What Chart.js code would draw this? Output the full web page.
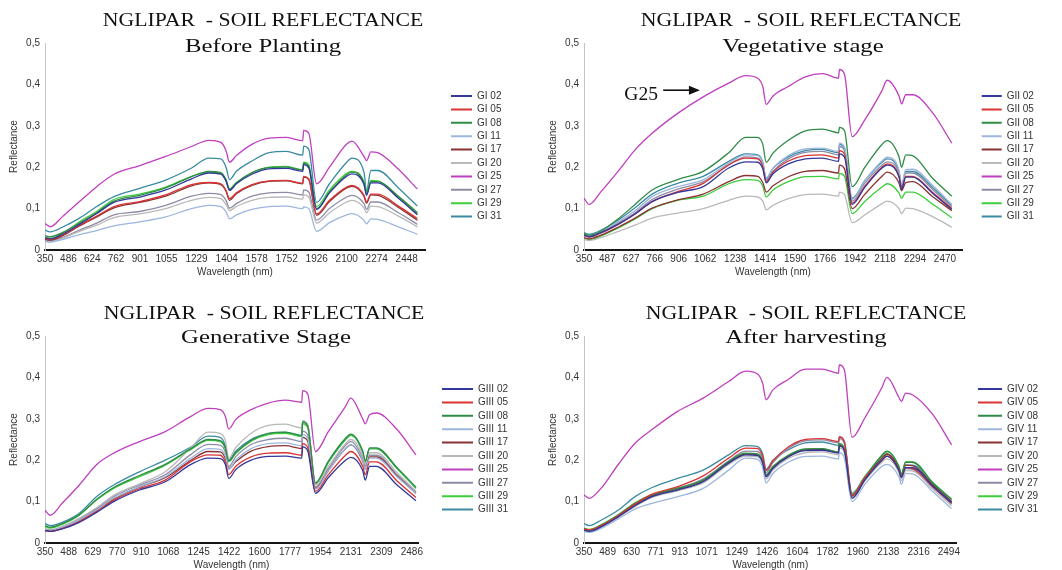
<!DOCTYPE html>
<html><head><meta charset="utf-8">
<script src="https://cdn.jsdelivr.net/npm/chart.js@4.4.1/dist/chart.umd.min.js"></script>
<style>
html,body{margin:0;padding:0;background:#fff;overflow:hidden;width:1062px;height:570px}
.panel{position:absolute}
.panel canvas{display:block}
.ttl{position:absolute;width:500px;text-align:center;font-family:"Liberation Serif","Times New Roman",serif;color:#111;white-space:nowrap;transform-origin:50% 50%;z-index:2}
.t1{font-size:18.6px;line-height:18.6px;transform:scaleX(1.17)}
.t2{font-size:19.2px;line-height:19.2px;transform:scaleX(1.29)}
</style></head><body>

<div class="panel" style="left:0;top:0"><canvas id="c1" width="531" height="278"></canvas></div>
<div class="panel" style="left:539px;top:0"><canvas id="c2" width="523" height="278"></canvas></div>
<div class="panel" style="left:0;top:293px"><canvas id="c3" width="531" height="278"></canvas></div>
<div class="panel" style="left:539px;top:293px"><canvas id="c4" width="523" height="278"></canvas></div>

<div class="ttl t1" style="left:13px;top:11px">NGLIPAR &nbsp;- SOIL REFLECTANCE</div>
<div class="ttl t2" style="left:13px;top:36px">Before Planting</div>
<div class="ttl t1" style="left:551px;top:11px">NGLIPAR &nbsp;- SOIL REFLECTANCE</div>
<div class="ttl t2" style="left:553px;top:36px">Vegetative stage</div>
<div class="ttl t1" style="left:14px;top:304px">NGLIPAR &nbsp;- SOIL REFLECTANCE</div>
<div class="ttl t2" style="left:16px;top:327px">Generative Stage</div>
<div class="ttl t1" style="left:556px;top:304px">NGLIPAR &nbsp;- SOIL REFLECTANCE</div>
<div class="ttl t2" style="left:556px;top:327px">After harvesting</div>

<script>
// ---------- DATA ----------
const WAVELENGTH_NM = [350, 380, 450, 550, 650, 750, 900, 1050, 1200, 1300, 1370, 1400, 1420, 1460, 1550, 1650, 1750, 1845, 1850, 1880, 1925, 2000, 2100, 2130, 2200, 2215, 2240, 2280, 2400, 2510];

const TICKS_BEFORE     = [350, 486, 624, 762, 901, 1055, 1229, 1404, 1578, 1752, 1926, 2100, 2274, 2448];
const TICKS_VEGETATIVE = [350, 487, 627, 766, 906, 1062, 1238, 1414, 1590, 1766, 1942, 2118, 2294, 2470];
const TICKS_GENERATIVE = [350, 488, 629, 770, 910, 1068, 1245, 1422, 1600, 1777, 1954, 2131, 2309, 2486];
const TICKS_AFTER      = [350, 489, 630, 771, 913, 1071, 1249, 1426, 1604, 1782, 1960, 2138, 2316, 2494];

const NAMES_I   = ['GI 02','GI 05','GI 08','GI 11','GI 17','GI 20','GI 25','GI 27','GI 29','GI 31'];
const NAMES_II  = ['GII 02','GII 05','GII 08','GII 11','GII 17','GII 20','GII 25','GII 27','GII 29','GII 31'];
const NAMES_III = ['GIII 02','GIII 05','GIII 08','GIII 11','GIII 17','GIII 20','GIII 25','GIII 27','GIII 29','GIII 31'];
const NAMES_IV  = ['GIV 02','GIV 05','GIV 08','GIV 11','GIV 17','GIV 20','GIV 25','GIV 27','GIV 29','GIV 31'];

// Before planting
const GI_02 = [0.03,0.027,0.038,0.062,0.088,0.115,0.128,0.145,0.172,0.186,0.183,0.166,0.144,0.16,0.183,0.196,0.197,0.19,0.206,0.198,0.098,0.138,0.178,0.184,0.158,0.132,0.162,0.162,0.125,0.085];
const GI_05 = [0.028,0.025,0.036,0.06,0.082,0.105,0.117,0.133,0.158,0.163,0.16,0.144,0.124,0.138,0.158,0.167,0.168,0.161,0.178,0.172,0.087,0.12,0.152,0.156,0.132,0.116,0.135,0.135,0.106,0.076];
const GI_08 = [0.035,0.032,0.042,0.065,0.09,0.118,0.132,0.15,0.177,0.19,0.187,0.17,0.146,0.162,0.187,0.199,0.2,0.193,0.21,0.202,0.1,0.14,0.182,0.188,0.162,0.135,0.165,0.165,0.13,0.09];
const GI_11 = [0.02,0.019,0.025,0.037,0.047,0.058,0.068,0.08,0.1,0.108,0.105,0.092,0.075,0.085,0.098,0.105,0.106,0.1,0.104,0.1,0.045,0.066,0.085,0.088,0.072,0.063,0.075,0.074,0.056,0.038];
const GI_17 = [0.026,0.024,0.034,0.058,0.08,0.102,0.115,0.13,0.155,0.162,0.158,0.142,0.12,0.136,0.156,0.166,0.167,0.16,0.176,0.17,0.084,0.117,0.15,0.154,0.13,0.113,0.133,0.132,0.103,0.072];
const GI_20 = [0.022,0.02,0.028,0.045,0.06,0.078,0.087,0.1,0.12,0.127,0.124,0.11,0.095,0.105,0.12,0.127,0.128,0.123,0.133,0.128,0.065,0.09,0.116,0.12,0.102,0.09,0.106,0.105,0.082,0.056];
const GI_25 = [0.064,0.056,0.08,0.117,0.153,0.183,0.204,0.226,0.25,0.265,0.26,0.24,0.212,0.228,0.255,0.27,0.272,0.264,0.289,0.282,0.16,0.2,0.256,0.263,0.226,0.216,0.237,0.235,0.195,0.147];
const GI_27 = [0.024,0.022,0.03,0.048,0.065,0.085,0.093,0.108,0.13,0.137,0.134,0.12,0.101,0.112,0.13,0.138,0.139,0.133,0.145,0.14,0.072,0.1,0.128,0.132,0.112,0.098,0.116,0.116,0.09,0.062];
const GI_29 = [0.03,0.028,0.04,0.068,0.093,0.122,0.135,0.152,0.178,0.188,0.185,0.168,0.148,0.163,0.186,0.2,0.202,0.194,0.212,0.205,0.105,0.145,0.185,0.19,0.165,0.14,0.168,0.167,0.128,0.087];
const GI_31 = [0.048,0.044,0.055,0.077,0.105,0.129,0.149,0.169,0.198,0.222,0.22,0.2,0.17,0.19,0.215,0.235,0.238,0.229,0.251,0.243,0.115,0.16,0.212,0.222,0.188,0.142,0.192,0.192,0.15,0.106];

// Vegetative stage
const GII_02 = [0.036,0.032,0.042,0.062,0.087,0.117,0.139,0.153,0.198,0.213,0.212,0.196,0.162,0.184,0.208,0.22,0.222,0.214,0.232,0.224,0.11,0.152,0.198,0.205,0.176,0.146,0.176,0.176,0.136,0.098];
const GII_05 = [0.035,0.031,0.041,0.062,0.087,0.117,0.141,0.161,0.206,0.222,0.22,0.202,0.165,0.188,0.215,0.228,0.23,0.222,0.24,0.232,0.113,0.155,0.2,0.208,0.178,0.148,0.178,0.178,0.138,0.1];
const GII_08 = [0.04,0.036,0.046,0.075,0.11,0.145,0.17,0.19,0.235,0.272,0.272,0.255,0.212,0.234,0.265,0.288,0.292,0.283,0.296,0.288,0.153,0.2,0.255,0.264,0.225,0.2,0.23,0.228,0.172,0.13];
const GII_11 = [0.04,0.036,0.046,0.068,0.095,0.129,0.153,0.17,0.21,0.23,0.228,0.21,0.175,0.198,0.228,0.244,0.246,0.238,0.258,0.248,0.122,0.168,0.215,0.224,0.193,0.158,0.194,0.195,0.155,0.11];
const GII_17 = [0.03,0.027,0.036,0.055,0.077,0.101,0.121,0.135,0.165,0.18,0.178,0.163,0.14,0.155,0.177,0.19,0.192,0.186,0.205,0.196,0.1,0.135,0.178,0.188,0.162,0.143,0.163,0.165,0.128,0.095];
const GII_20 = [0.025,0.023,0.03,0.045,0.06,0.077,0.089,0.1,0.12,0.13,0.128,0.118,0.097,0.108,0.124,0.134,0.135,0.13,0.14,0.134,0.066,0.085,0.112,0.118,0.1,0.088,0.101,0.1,0.08,0.055];
const GII_25 = [0.125,0.11,0.141,0.19,0.242,0.282,0.33,0.37,0.403,0.421,0.415,0.395,0.352,0.372,0.395,0.418,0.426,0.415,0.436,0.424,0.274,0.315,0.385,0.41,0.372,0.353,0.375,0.375,0.33,0.258];
const GII_27 = [0.038,0.034,0.044,0.065,0.09,0.122,0.147,0.165,0.205,0.225,0.222,0.205,0.168,0.19,0.22,0.236,0.238,0.23,0.25,0.24,0.118,0.162,0.205,0.213,0.185,0.152,0.186,0.186,0.145,0.104];
const GII_29 = [0.028,0.025,0.034,0.053,0.075,0.1,0.12,0.13,0.16,0.17,0.168,0.154,0.128,0.145,0.165,0.177,0.178,0.172,0.185,0.178,0.088,0.118,0.152,0.16,0.138,0.125,0.14,0.14,0.11,0.078];
const GII_31 = [0.042,0.038,0.048,0.072,0.102,0.135,0.161,0.178,0.214,0.232,0.23,0.212,0.172,0.197,0.225,0.24,0.243,0.235,0.255,0.245,0.125,0.168,0.212,0.22,0.19,0.155,0.19,0.19,0.15,0.108];

// Generative stage
const GIII_02 = [0.03,0.028,0.034,0.05,0.074,0.1,0.128,0.148,0.19,0.205,0.204,0.19,0.156,0.177,0.2,0.209,0.21,0.205,0.232,0.222,0.12,0.158,0.2,0.207,0.175,0.152,0.185,0.185,0.14,0.102];
const GIII_05 = [0.03,0.028,0.035,0.052,0.076,0.103,0.131,0.152,0.197,0.213,0.212,0.196,0.165,0.185,0.208,0.217,0.218,0.212,0.24,0.23,0.125,0.165,0.212,0.221,0.185,0.165,0.196,0.196,0.15,0.11];
const GIII_08 = [0.042,0.038,0.047,0.068,0.105,0.134,0.163,0.19,0.228,0.25,0.247,0.23,0.198,0.218,0.248,0.265,0.268,0.26,0.292,0.282,0.145,0.198,0.253,0.263,0.222,0.198,0.23,0.23,0.182,0.135];
const GIII_11 = [0.033,0.03,0.038,0.056,0.08,0.108,0.136,0.16,0.205,0.228,0.226,0.21,0.178,0.2,0.228,0.24,0.242,0.235,0.262,0.252,0.13,0.175,0.228,0.237,0.2,0.178,0.205,0.205,0.16,0.12];
const GIII_17 = [0.032,0.03,0.037,0.055,0.08,0.106,0.135,0.158,0.2,0.221,0.22,0.205,0.18,0.196,0.222,0.233,0.235,0.228,0.255,0.245,0.132,0.175,0.228,0.237,0.198,0.178,0.208,0.208,0.162,0.12];
const GIII_20 = [0.035,0.032,0.04,0.06,0.085,0.115,0.143,0.172,0.23,0.268,0.265,0.248,0.205,0.23,0.265,0.284,0.287,0.278,0.295,0.285,0.14,0.185,0.24,0.25,0.212,0.19,0.218,0.218,0.17,0.125];
const GIII_25 = [0.079,0.067,0.096,0.14,0.189,0.217,0.245,0.269,0.306,0.325,0.322,0.306,0.275,0.298,0.322,0.338,0.345,0.34,0.368,0.36,0.221,0.269,0.33,0.35,0.3,0.288,0.31,0.314,0.274,0.213];
const GIII_27 = [0.034,0.031,0.039,0.058,0.083,0.112,0.14,0.165,0.214,0.238,0.236,0.22,0.185,0.208,0.238,0.25,0.253,0.245,0.27,0.26,0.135,0.18,0.236,0.245,0.205,0.185,0.212,0.212,0.165,0.123];
const GIII_29 = [0.04,0.036,0.045,0.068,0.104,0.132,0.16,0.188,0.226,0.248,0.245,0.228,0.196,0.216,0.246,0.262,0.265,0.257,0.288,0.278,0.142,0.195,0.25,0.26,0.22,0.195,0.228,0.228,0.18,0.133];
const GIII_31 = [0.047,0.042,0.05,0.072,0.112,0.14,0.172,0.2,0.232,0.258,0.255,0.235,0.2,0.222,0.25,0.264,0.267,0.258,0.295,0.285,0.145,0.195,0.25,0.26,0.22,0.196,0.228,0.228,0.18,0.132];

// After harvesting
const GIV_02 = [0.031,0.028,0.039,0.063,0.09,0.112,0.128,0.148,0.193,0.213,0.211,0.194,0.16,0.18,0.208,0.223,0.224,0.217,0.234,0.223,0.108,0.152,0.2,0.21,0.176,0.158,0.182,0.182,0.137,0.097];
const GIV_05 = [0.035,0.032,0.042,0.066,0.094,0.118,0.136,0.162,0.205,0.229,0.228,0.21,0.175,0.198,0.232,0.25,0.252,0.245,0.256,0.244,0.115,0.158,0.2,0.21,0.177,0.16,0.182,0.18,0.136,0.096];
const GIV_08 = [0.034,0.031,0.043,0.067,0.096,0.116,0.132,0.152,0.197,0.217,0.215,0.198,0.165,0.185,0.212,0.227,0.228,0.22,0.24,0.228,0.115,0.158,0.212,0.222,0.185,0.165,0.195,0.195,0.145,0.105];
const GIV_11 = [0.028,0.026,0.035,0.058,0.082,0.096,0.112,0.132,0.176,0.205,0.202,0.182,0.145,0.168,0.195,0.209,0.21,0.203,0.218,0.205,0.1,0.142,0.185,0.19,0.16,0.142,0.168,0.167,0.124,0.083];
const GIV_17 = [0.032,0.029,0.04,0.064,0.092,0.114,0.13,0.15,0.195,0.215,0.213,0.196,0.163,0.183,0.21,0.225,0.226,0.219,0.236,0.225,0.113,0.155,0.205,0.215,0.18,0.162,0.188,0.187,0.14,0.1];
const GIV_20 = [0.03,0.028,0.038,0.062,0.088,0.11,0.126,0.145,0.19,0.21,0.208,0.19,0.155,0.176,0.204,0.218,0.22,0.213,0.23,0.218,0.108,0.15,0.195,0.203,0.17,0.15,0.175,0.174,0.13,0.09];
const GIV_25 = [0.116,0.108,0.132,0.189,0.241,0.274,0.318,0.35,0.39,0.415,0.408,0.385,0.346,0.37,0.395,0.42,0.42,0.41,0.43,0.418,0.255,0.302,0.375,0.4,0.352,0.342,0.362,0.358,0.31,0.237];
const GIV_27 = [0.034,0.031,0.041,0.064,0.092,0.114,0.132,0.155,0.198,0.222,0.221,0.204,0.17,0.194,0.228,0.247,0.249,0.242,0.252,0.24,0.113,0.156,0.2,0.21,0.175,0.158,0.18,0.178,0.134,0.094];
const GIV_29 = [0.036,0.033,0.044,0.068,0.097,0.117,0.133,0.152,0.196,0.216,0.214,0.197,0.162,0.183,0.21,0.226,0.228,0.22,0.238,0.226,0.117,0.16,0.21,0.22,0.186,0.168,0.196,0.196,0.146,0.106];
const GIV_31 = [0.047,0.042,0.055,0.079,0.112,0.134,0.156,0.176,0.213,0.235,0.233,0.215,0.178,0.2,0.225,0.242,0.244,0.236,0.256,0.245,0.12,0.16,0.205,0.215,0.182,0.165,0.188,0.188,0.142,0.1];

// G25 annotation anchor (data units: nm, reflectance)
const G25_NOTE = { text: 'G25', textRightNm: 784, textBaseY: 0.363, arrowFromNm: 815, arrowToNm: 1031, arrowY: 0.386 };

// ---------- STYLE ----------
const SERIES_COLORS = ['#33379a','#d83434','#2f8b45','#9cb6de','#8a3333','#b9b9b9','#bf3fbf','#8d8ca6','#3ccd3c','#3a8ba2'];
const SANS = '"Liberation Sans", Arial, sans-serif';
Chart.defaults.font.family = SANS;
Chart.defaults.color = '#333';

const fixLegendWidth = {
  id: 'fixLegendWidth',
  beforeLayout(chart, args, opts) {
    const lg = chart.legend;
    if (lg && !lg.__fixedW) {
      const orig = lg.fit.bind(lg);
      lg.fit = function () { orig(); this.width = opts.width; };
      lg.__fixedW = true;
    }
  }
};

const g25Annotation = {
  id: 'g25Annotation',
  afterDatasetsDraw(chart) {
    const {ctx, scales: {x, y}} = chart;
    ctx.save();
    ctx.fillStyle = '#111'; ctx.strokeStyle = '#111';
    ctx.font = '19.5px "Liberation Serif", "Times New Roman", serif';
    ctx.textAlign = 'right'; ctx.textBaseline = 'alphabetic';
    ctx.fillText(G25_NOTE.text, x.getPixelForValue(G25_NOTE.textRightNm), y.getPixelForValue(G25_NOTE.textBaseY));
    const x0 = x.getPixelForValue(G25_NOTE.arrowFromNm), x1 = x.getPixelForValue(G25_NOTE.arrowToNm), ay = y.getPixelForValue(G25_NOTE.arrowY);
    ctx.lineWidth = 1.6;
    ctx.beginPath(); ctx.moveTo(x0, ay); ctx.lineTo(x1 - 9, ay); ctx.stroke();
    ctx.beginPath(); ctx.moveTo(x1, ay); ctx.lineTo(x1 - 11, ay - 4.5); ctx.lineTo(x1 - 11, ay + 4.5); ctx.closePath(); ctx.fill();
    ctx.restore();
  }
};

function makePanel(canvasId, lay, names, seriesList, tickLabels, extra) {
  const datasets = seriesList.map((vals, i) => ({
    label: names[i],
    data: WAVELENGTH_NM.map((w, j) => ({x: w, y: vals[j]})),
    borderColor: SERIES_COLORS[i],
    backgroundColor: SERIES_COLORS[i],
    borderWidth: 1.3,
    pointRadius: 0,
    pointHoverRadius: 0,
    fill: false,
    cubicInterpolationMode: 'monotone'
  }));
  return new Chart(document.getElementById(canvasId), {
    type: 'line',
    data: {datasets},
    plugins: [fixLegendWidth].concat(extra || []),
    options: {
      responsive: false,
      animation: false,
      events: [],
      layout: {padding: {top: 43, bottom: 0, left: 0, right: 0}},
      scales: {
        x: {
          type: 'linear', min: 350, max: lay.xMax,
          afterBuildTicks: s => { s.ticks = tickLabels.map(v => ({value: v})); },
          ticks: {autoSkip: false, maxRotation: 0, padding: 3, color: '#333', font: {size: 10}, callback: v => String(v)},
          grid: {display: false, drawTicks: false},
          border: {display: true, color: '#161616', width: 2},
          title: {display: true, text: 'Wavelength (nm)', color: '#333', font: {size: 10}, padding: {top: 0, bottom: 0}},
          afterFit: s => { s.height = 28; }
        },
        y: {
          type: 'linear', min: 0, max: 0.5,
          ticks: {stepSize: 0.1, padding: 5, color: '#333', font: {size: 10},
                  callback: v => (Math.abs(v) < 1e-9 ? '0' : v.toFixed(1).replace('.', ','))},
          grid: {display: false, drawTicks: false},
          border: {display: true, color: '#c4c4c4', width: 1},
          title: {display: true, text: 'Reflectance', color: '#333', font: {size: 10}, padding: {top: 8.6, bottom: 0}},
          afterFit: s => { s.width = 45; }
        },
        gap: {
          type: 'linear', position: 'right', display: true,
          grid: {display: false, drawTicks: false}, border: {display: false},
          ticks: {display: false},
          afterFit: s => { s.width = lay.gap; }
        }
      },
      plugins: {
        fixLegendWidth: {width: lay.legendW},
        tooltip: {enabled: false},
        legend: {
          position: 'right', align: 'center', fullSize: false,
          title: {display: true, text: ' ', font: {size: 10}, padding: {top: 4, bottom: 3.6}},
          labels: {
            usePointStyle: true, pointStyle: 'line', pointStyleWidth: lay.boxW,
            font: {size: 10}, color: '#333', padding: 3.4,
            generateLabels: chart => Chart.defaults.plugins.legend.labels.generateLabels(chart)
              .map(l => Object.assign(l, {lineWidth: 2, pointStyle: 'line'}))
          }
        }
      }
    }
  });
}

makePanel('c1', {xMax: 2554, gap: 22.6, legendW: 83.4, boxW: 21}, NAMES_I,
  [GI_02, GI_05, GI_08, GI_11, GI_17, GI_20, GI_25, GI_27, GI_29, GI_31], TICKS_BEFORE);
makePanel('c2', {xMax: 2570, gap: 16.3, legendW: 83.7, boxW: 20}, NAMES_II,
  [GII_02, GII_05, GII_08, GII_11, GII_17, GII_20, GII_25, GII_27, GII_29, GII_31], TICKS_VEGETATIVE, [g25Annotation]);
makePanel('c3', {xMax: 2522, gap: 20.6, legendW: 92.4, boxW: 31}, NAMES_III,
  [GIII_02, GIII_05, GIII_08, GIII_11, GIII_17, GIII_20, GIII_25, GIII_27, GIII_29, GIII_31], TICKS_GENERATIVE);
makePanel('c4', {xMax: 2540, gap: 17.9, legendW: 87.4, boxW: 24}, NAMES_IV,
  [GIV_02, GIV_05, GIV_08, GIV_11, GIV_17, GIV_20, GIV_25, GIV_27, GIV_29, GIV_31], TICKS_AFTER);
</script>
</body></html>
